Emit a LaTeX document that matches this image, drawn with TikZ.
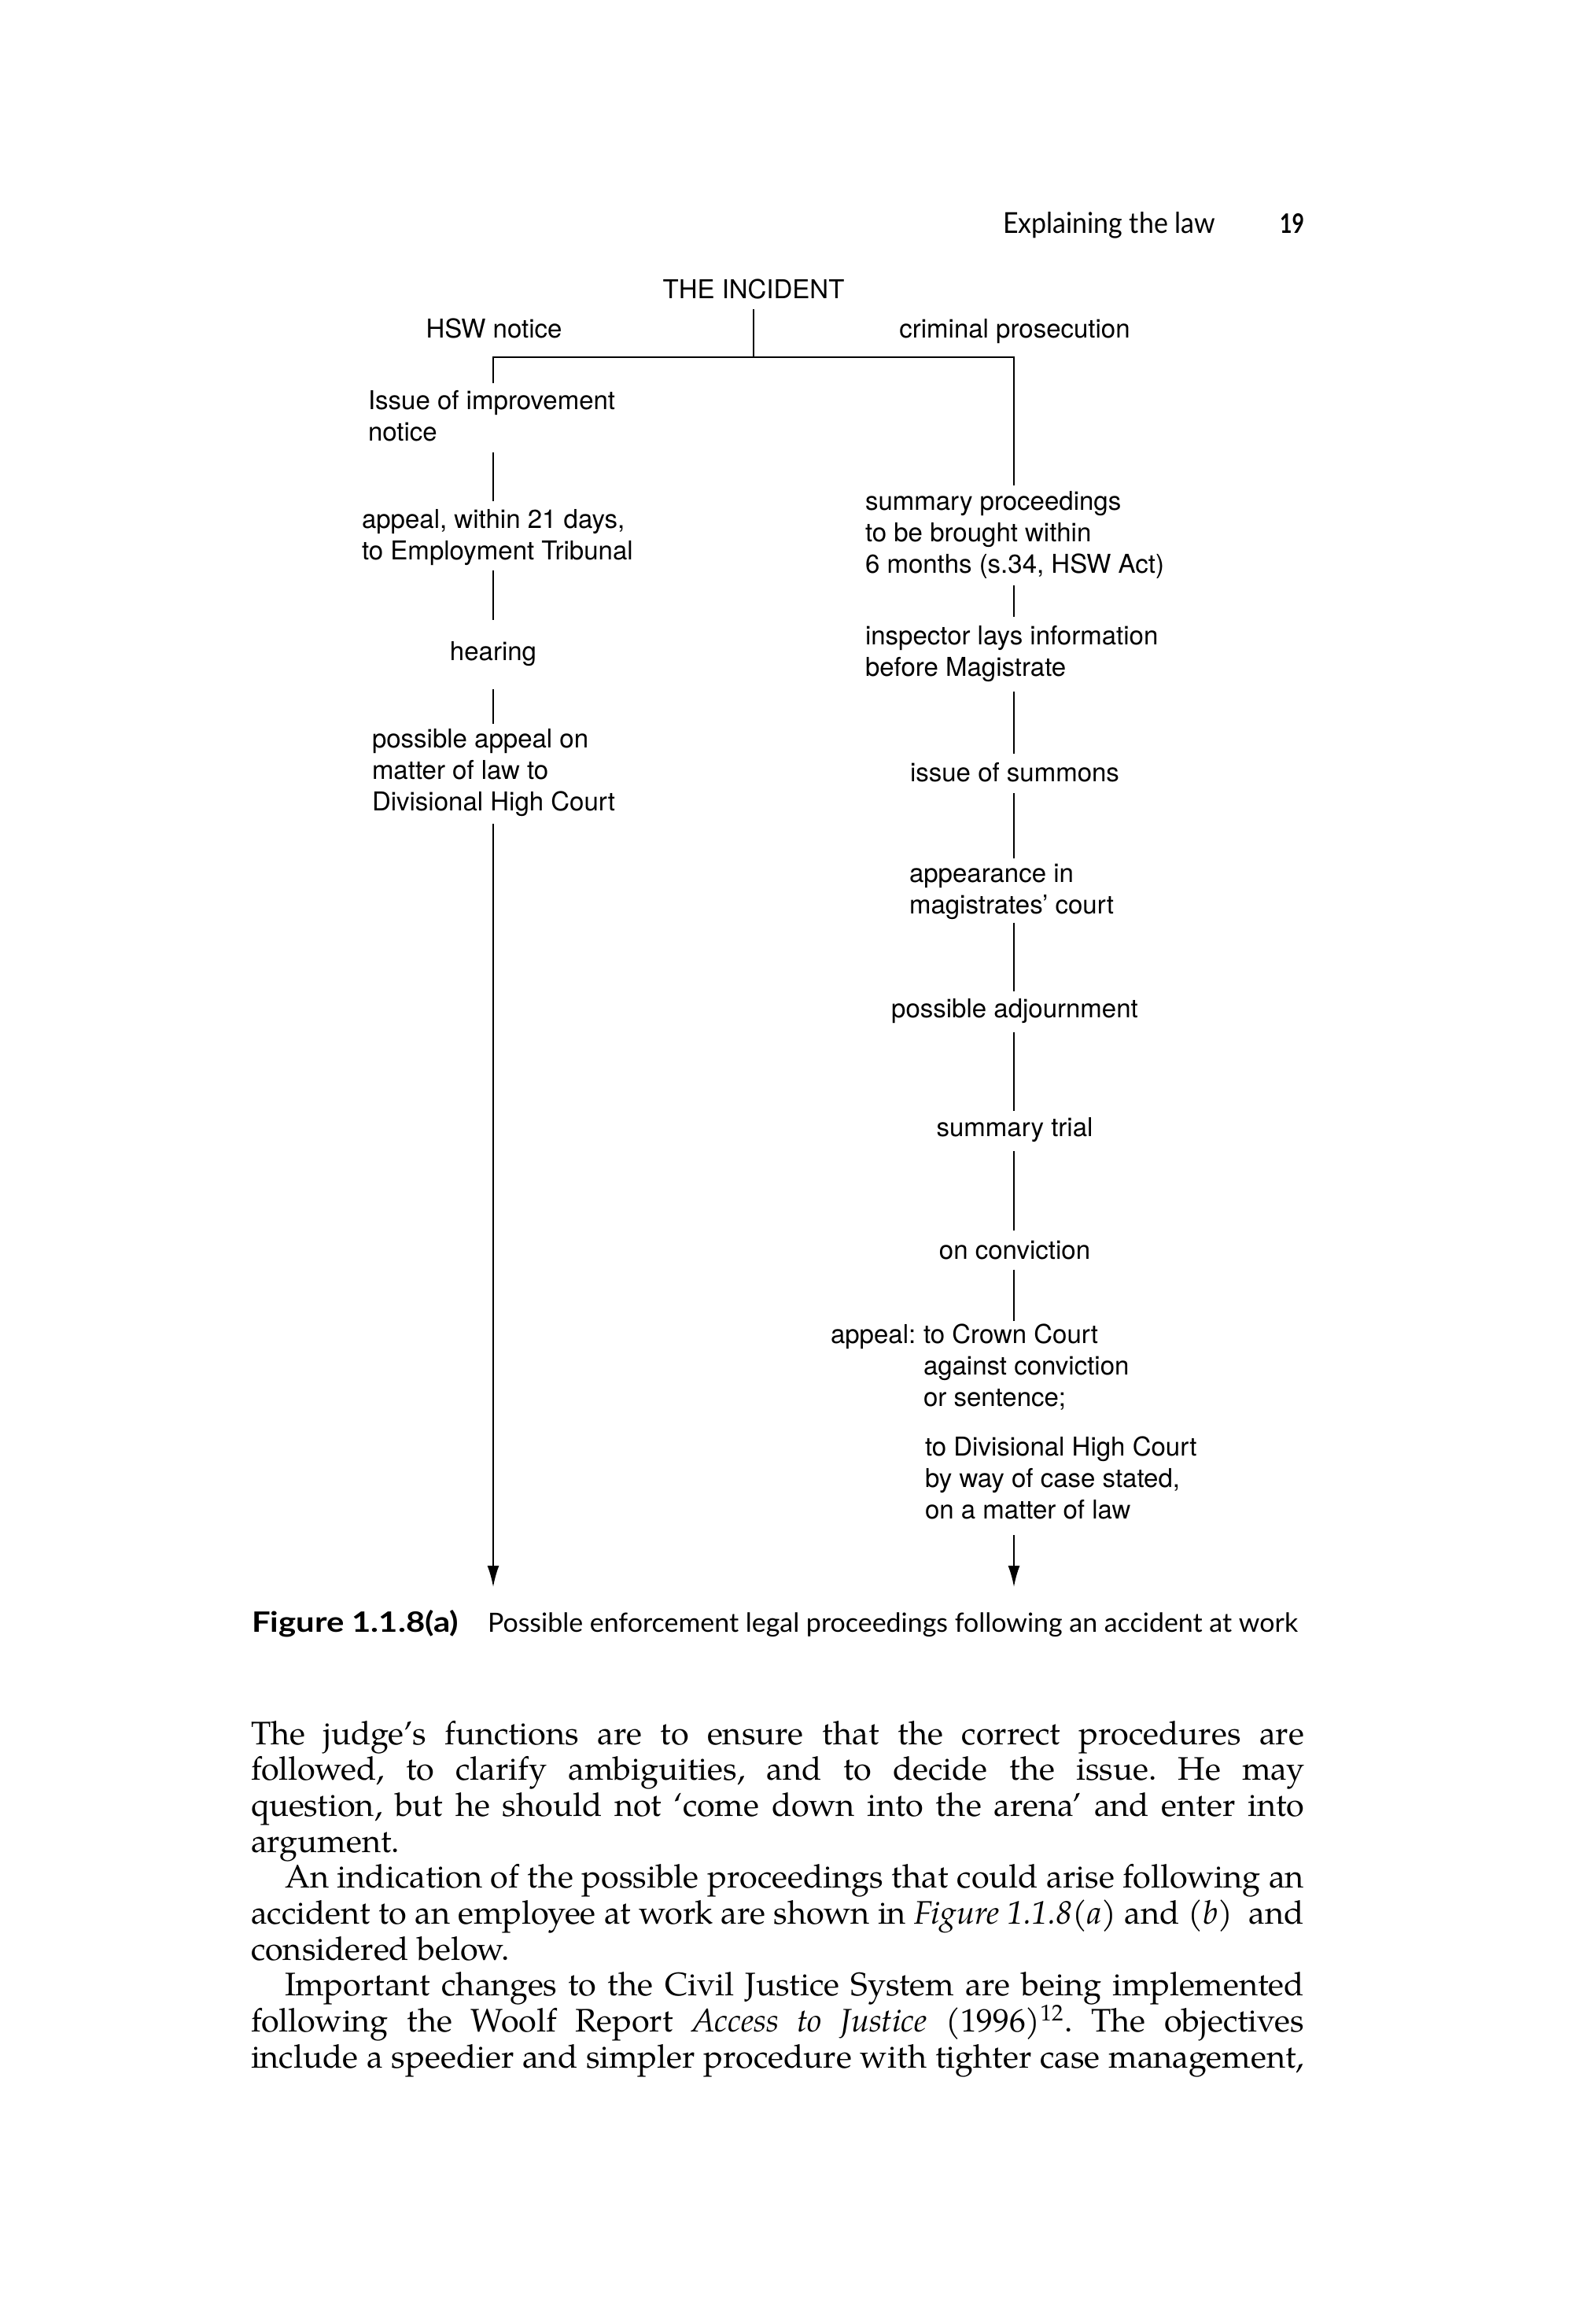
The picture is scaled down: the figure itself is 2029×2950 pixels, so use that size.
\documentclass[tikz,border=0pt]{standalone}
\usepackage{fontspec}
\setmainfont{TeX Gyre Pagella}
\newfontfamily\diagfont{TeX Gyre Heros}
\newfontfamily\gillfont{Lato}
\usetikzlibrary{arrows.meta}
\tikzset{
  lbl/.style={font=\diagfont\fontsize{8.25}{10}\selectfont, inner sep=0pt, outer sep=0pt, align=left},
  ctr/.style={font=\diagfont\fontsize{8.25}{10}\selectfont, inner sep=0pt, outer sep=0pt, anchor=base},
  link/.style={line width=0.5pt, black},
  barline/.style={line width=0.6pt, black},
  arr/.style={line width=0.5pt, black, -{Latex[length=6.75pt,width=3.75pt]}},
  plain/.style={inner sep=0pt, outer sep=0pt, anchor=base west},
  body/.style={plain, font=\fontsize{10.35}{11.4}\selectfont},
}
\newcommand\bodyjust[2]{{\frenchspacing\spaceskip=0.25em plus 0.6em minus 0.1em\makebox[#1][s]{#2}}}
\begin{document}
\begin{tikzpicture}[x=0.25pt,y=-0.25pt]
\fill[white] (0,0) rectangle (2029,2950);
\useasboundingbox (0,0) rectangle (2029,2950);

% running head
\node[plain] (hdr) at (1275,297) {\resizebox{67.5pt}{6.75pt}{\gillfont Explaining the law}};
\node[plain] (pgno) at (1627,297) {\resizebox{7.75pt}{6.25pt}{\gillfont\bfseries 19}};

% helper coordinates
\coordinate (Lx) at (627,0);
\coordinate (Rx) at (1289,0);
\coordinate (bar) at (958,454);
\coordinate (tipL) at (627,2017);
\coordinate (tipR) at (1289,2017);

% top
\node[ctr] (inc) at (958,380) {THE INCIDENT};
\node[ctr] (hsw) at (628,430) {HSW notice};
\node[ctr] (crim) at (1290,430) {criminal prosecution};

% left column
\node[lbl, anchor=north west] (issue) at (468,496) {Issue of improvement\\notice};
\node[lbl, anchor=north west] (appET) at (460,647) {appeal, within 21 days,\\to Employment Tribunal};
\node[ctr] (hear) at (627,840) {hearing};
\node[lbl, anchor=north west] (appDHC) at (473,926) {possible appeal on\\matter of law to\\Divisional High Court};

% right column
\node[lbl, anchor=north west] (summ) at (1100,624) {summary proceedings\\to be brought within\\6 months (s.34, HSW Act)};
\node[lbl, anchor=north west] (insp) at (1100,795) {inspector lays information\\before Magistrate};
\node[ctr] (summons) at (1290,993) {issue of summons};
\node[lbl, anchor=north west] (appear) at (1156,1098) {appearance in\\magistrates’ court};
\node[ctr] (adj) at (1290,1293) {possible adjournment};
\node[ctr] (trial) at (1290,1444) {summary trial};
\node[ctr] (conv) at (1290,1600) {on conviction};
\node[lbl, anchor=base west] (appeal) at (1056,1707) {appeal:};
\node[lbl, anchor=north west] (crown) at (1174,1683) {to Crown Court\\against conviction\\or sentence;};
\node[lbl, anchor=north west] (dhc) at (1176,1826) {to Divisional High Court\\by way of case stated,\\on a matter of law};

% connectors
\draw[link, shorten <=3pt] (inc.south) -- (inc.south |- bar);
\draw[barline, shorten <=2.25pt, shorten >=1.75pt] (issue.north -| Lx) |- (bar) -| (summ.north -| Rx);

\draw[link, shorten <=3.5pt, shorten >=2.5pt] (issue.south -| Lx) -- (appET.north -| Lx);
\draw[link, shorten <=1.75pt, shorten >=7pt] (appET.south -| Lx) -- (hear.north -| Lx);
\draw[link, shorten <=7.25pt, shorten >=1.5pt] (hear.south -| Lx) -- (appDHC.north -| Lx);
\draw[arr, shorten <=2.5pt] (appDHC.south -| Lx) -- (tipL);

\draw[link, shorten <=2.25pt, shorten >=2.75pt] (summ.south -| Rx) -- (insp.north -| Rx);
\draw[link, shorten <=3.25pt, shorten >=2.75pt] (insp.south -| Rx) -- (summons.north -| Rx);
\draw[link, shorten <=3.75pt, shorten >=1.75pt] (summons.south -| Rx) -- (appear.north -| Rx);
\draw[link, shorten <=1pt, shorten >=2.25pt] (appear.south -| Rx) -- (adj.north -| Rx);
\draw[link, shorten <=3pt, shorten >=2pt] (adj.south -| Rx) -- (trial.north -| Rx);
\draw[link, shorten <=3pt, shorten >=3.25pt] (trial.south -| Rx) -- (conv.north -| Rx);
\draw[link, shorten <=3.25pt, shorten >=1pt] (conv.south -| Rx) -- (crown.north -| Rx);
\draw[arr, shorten <=5pt] (dhc.south -| Rx) -- (tipR);

% caption
\node[plain] (figlbl) at (320,2074) {\resizebox{65.75pt}{7pt}{\gillfont\bfseries Figure 1.1.8(a)}};
\node[plain] (figcap) at (620,2074) {\resizebox{257.5pt}{6.2pt}{\gillfont Possible enforcement legal proceedings following an accident at work}};

% body text
\node[body] (b1) at (319,2217) {\bodyjust{334.75pt}{The judge’s functions are to ensure that the correct procedures are}};
\node[body] (b2) at (319,2262.7) {\bodyjust{334.75pt}{followed, to clarify ambiguities, and to decide the issue. He may}};
\node[body] (b3) at (319,2308.4) {\bodyjust{334.75pt}{question, but he should not ‘come down into the arena’ and enter into}};
\node[body] (b4) at (319,2354.1) {argument.};
\node[body] (b5) at (362,2399.8) {\bodyjust{324pt}{An indication of the possible proceedings that could arise following an}};
\node[body] (b6) at (319,2445.5) {\bodyjust{334.75pt}{accident to an employee at work are shown in \textit{Figure 1.1.8(a)} and \textit{(b)}\ \ and}};
\node[body] (b7) at (319,2491.2) {considered below.};
\node[body] (b8) at (362,2536.9) {\bodyjust{324pt}{Important changes to the Civil Justice System are being implemented}};
\node[body] (b9) at (319,2582.6) {\bodyjust{334.75pt}{following the Woolf Report \textit{Access to Justice} (1996)\textsuperscript{12}. The objectives}};
\node[body] (b10) at (319,2628.3) {\bodyjust{334.75pt}{include a speedier and simpler procedure with tighter case management,}};
\end{tikzpicture}
\end{document}
